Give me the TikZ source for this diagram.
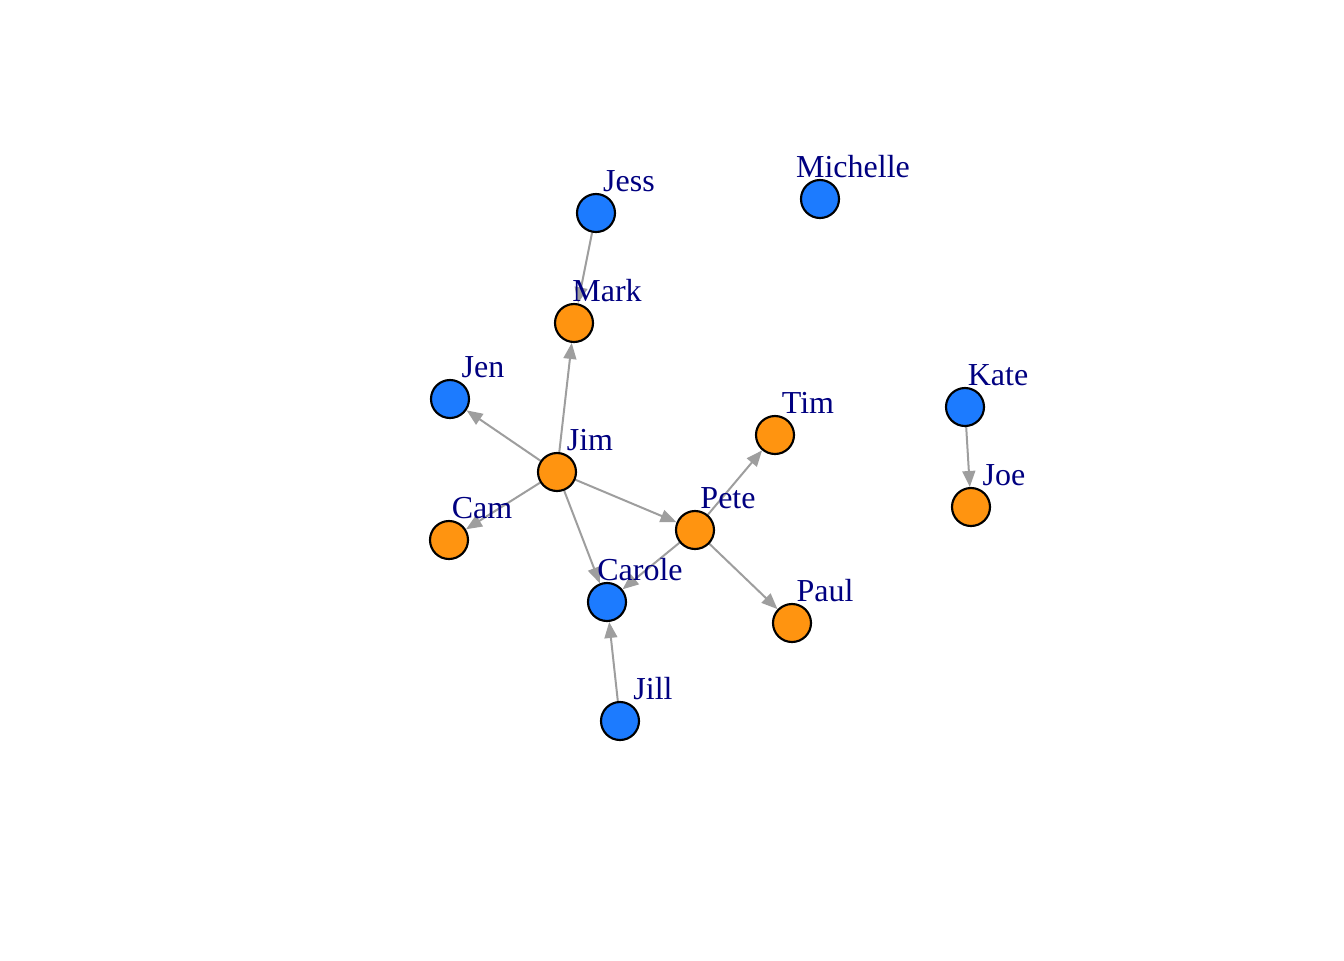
\documentclass[tikz,border=0pt]{standalone}
\usepackage{fontspec}
\setmainfont{Liberation Serif}
\usepackage{xcolor}
\usetikzlibrary{arrows.meta, calc, backgrounds}
\definecolor{netblue}{HTML}{1C7BFF}
\definecolor{netorange}{HTML}{FF9410}
\definecolor{netnavy}{HTML}{000080}
\definecolor{netgray}{HTML}{9E9E9E}

\begin{document}
\begin{tikzpicture}[
  x=0.375pt, y=-0.375pt,
  person/.style={circle, draw=black, line width=0.8pt, fill=#1, minimum size=14.25pt, inner sep=0pt},
  lbl/.style={font=\fontsize{12}{14}\selectfont, text=netnavy, inner sep=0pt},
  tie/.style={-{Triangle[length=6pt, width=4.8pt]}, line width=0.75pt, color=netgray}
]
  % canvas
  \useasboundingbox (0,0) rectangle (1344,960);

  % People
  \node[person=netblue]   (jess)     at (596,213) {};
  \node[person=netblue]   (michelle) at (820,199) {};
  \node[person=netorange] (mark)     at (574,323) {};
  \node[person=netblue]   (jen)      at (450,399) {};
  \node[person=netorange] (jim)      at (557,472) {};
  \node[person=netorange] (tim)      at (775,435) {};
  \node[person=netblue]   (kate)     at (965,407) {};
  \node[person=netorange] (joe)      at (971,507) {};
  \node[person=netorange] (cam)      at (449,540) {};
  \node[person=netorange] (pete)     at (695,530) {};
  \node[person=netblue]   (carole)   at (607,602) {};
  \node[person=netorange] (paul)     at (792,623) {};
  \node[person=netblue]   (jill)     at (620,721) {};

  % Ties
  \begin{scope}[on background layer]
  \draw[tie] (jess) -- (mark);
  \draw[tie] (jim) -- (mark);
  \draw[tie] (jim) -- (jen);
  \draw[tie] (jim) -- (cam);
  \draw[tie] (jim) -- (pete);
  \draw[tie] (jim) -- (carole);
  \draw[tie] (pete) -- (tim);
  \draw[tie] (pete) -- (paul);
  \draw[tie] (pete) -- (carole);
  \draw[tie] (jill) -- (carole);
  \draw[tie] (kate) -- (joe);
  \end{scope}

  % Names
  \foreach \who/\name in {jess/Jess, michelle/Michelle, mark/Mark, jen/Jen, jim/Jim,
      tim/Tim, kate/Kate, joe/Joe, cam/Cam, pete/Pete, carole/Carole, paul/Paul, jill/Jill}
    \node[lbl] (\who-name) at ($(\who)+(33,-32)$) {\name};
\end{tikzpicture}
\end{document}
